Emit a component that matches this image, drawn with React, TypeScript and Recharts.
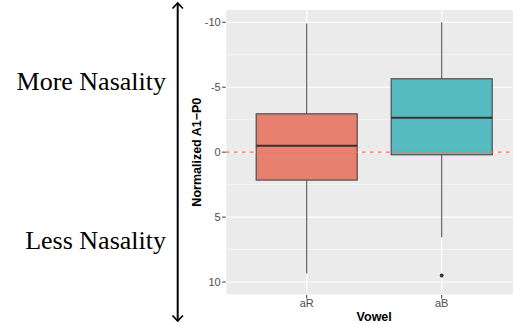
import React from 'react';
import {
  ComposedChart, Bar, XAxis, YAxis, CartesianGrid, ReferenceLine, Label,
} from 'recharts';

// Values (y axis is reversed: -10 at the top)
const vowels = ['aR', 'aB'];
const whiskerTop = [-9.9, -10.0];
const boxTop = [-2.95, -5.65];
const medians = [-0.5, -2.65];
const boxBottom = [2.15, 0.2];
const whiskerBottom = [9.35, 6.55];
const outliers: (number | null)[] = [null, 9.5];

const yTicks = [-10, -5, 0, 5, 10];
const yMinorTicks = [-7.5, -2.5, 2.5, 7.5];
const boxFills = ['#E8806F', '#56BCC2'];

const FONT = '"Liberation Sans", Arial, sans-serif';
const BOX_WIDTH = 101;
const X_PADDING = { left: 13.5, right: 13.5 };

const chartData = vowels.map((vowel, i) => ({
  vowel,
  whisker: [whiskerTop[i], whiskerBottom[i]],
  box: [boxTop[i], boxBottom[i]],
  median: [medians[i], medians[i]],
  outlier: outliers[i] == null ? null : [outliers[i], outliers[i]],
}));

const norm = (y: number, h: number) => ({ top: Math.min(y, y + (h || 0)), bottom: Math.max(y, y + (h || 0)) });

const WhiskerShape = (props: any) => {
  const { x, y, width, height } = props;
  const { top, bottom } = norm(y, height);
  const cx = x + width / 2;
  return <line x1={cx} x2={cx} y1={top} y2={bottom} stroke="#555555" strokeWidth={1.1} />;
};

const BoxShape = (props: any) => {
  const { x, y, width, height, index } = props;
  const { top, bottom } = norm(y, height);
  return (
    <rect x={x} y={top} width={width} height={bottom - top}
      fill={boxFills[index % boxFills.length]} stroke="#4D4D4D" strokeWidth={1.2} />
  );
};

const MedianShape = (props: any) => {
  const { x, y, width, height } = props;
  const { top } = norm(y, height);
  return <line x1={x} x2={x + width} y1={top} y2={top} stroke="#333333" strokeWidth={2} />;
};

const OutlierDot = (props: any) => {
  const { x, y, width, height, payload } = props;
  if (!payload || payload.outlier == null || !Number.isFinite(y)) return <g />;
  const { top } = norm(y, height);
  return <circle cx={x + width / 2} cy={top} r={1.9} fill="#333333" />;
};

const YTitle = (props: any) => {
  const { viewBox } = props;
  const x = viewBox.x + 1;
  const y = viewBox.y + viewBox.height / 2;
  return (
    <text x={x} y={y} transform={`rotate(-90 ${x} ${y})`} textAnchor="middle" dominantBaseline="central"
      fontFamily={FONT} fontWeight="bold" fontSize={12.5} fill="#000">
      Normalized A1−P0
    </text>
  );
};

const XTitle = (props: any) => {
  const { viewBox } = props;
  return (
    <text x={viewBox.x + viewBox.width / 2} y={viewBox.y + 26} textAnchor="middle"
      fontFamily={FONT} fontWeight="bold" fontSize={12.5} fill="#000">
      Vowel
    </text>
  );
};

export default function App() {
  return (
    <div style={{ position: 'fixed', left: 0, top: 0, width: 513, height: 324, overflow: 'hidden', background: '#fff' }}>
      <svg width={190} height={324} style={{ position: 'absolute', left: 0, top: 0 }}>
        <line x1={177.7} x2={177.7} y1={3} y2={321} stroke="#000" strokeWidth={2} />
        <polyline points="172.5,8.5 177.7,3 182.9,8.5" fill="none" stroke="#000" strokeWidth={1.8} />
        <polyline points="172.5,315.5 177.7,321 182.9,315.5" fill="none" stroke="#000" strokeWidth={1.8} />
        <text x={166} y={90} textAnchor="end" fontFamily='"Liberation Serif", "Times New Roman", serif' fontSize={26} fill="#000">
          More Nasality
        </text>
        <text x={166} y={249.3} textAnchor="end" fontFamily='"Liberation Serif", "Times New Roman", serif' fontSize={26} fill="#000">
          Less Nasality
        </text>
      </svg>
      <div style={{ position: 'absolute', left: 0, top: 0 }}>
        <ComposedChart width={530} height={324} data={chartData}
          margin={{ top: 9.3, right: 7.3, bottom: 0, left: 195.7 }}>
          <CartesianGrid xAxisId="box" fill="#EBEBEB" stroke="#FFFFFF" strokeWidth={1.1} />
          <CartesianGrid xAxisId="box" vertical={false} horizontalValues={yMinorTicks} stroke="#FFFFFF" strokeWidth={0.55} />
          <XAxis xAxisId="box" dataKey="vowel" type="category" height={29} padding={X_PADDING}
            axisLine={false} tickLine={{ stroke: '#333333' }} tickSize={3.5} tickMargin={1}
            tick={{ fill: '#4D4D4D', fontSize: 11, fontFamily: FONT }}>
            <Label content={<XTitle />} />
          </XAxis>
          <XAxis xAxisId="w" dataKey="vowel" type="category" hide padding={X_PADDING} />
          <XAxis xAxisId="m" dataKey="vowel" type="category" hide padding={X_PADDING} />
          <XAxis xAxisId="o" dataKey="vowel" type="category" hide padding={X_PADDING} />
          <YAxis type="number" domain={[-11, 11]} reversed ticks={yTicks} width={30}
            axisLine={false} tickLine={{ stroke: '#333333' }} tickSize={3.5} tickMargin={1.5}
            tick={{ fill: '#4D4D4D', fontSize: 11, fontFamily: FONT }} allowDataOverflow>
            <Label content={<YTitle />} />
          </YAxis>
          <ReferenceLine xAxisId="box" y={0} stroke="#F4735F" strokeWidth={1.1} strokeDasharray="4 4" />
          <Bar xAxisId="w" dataKey="whisker" barSize={BOX_WIDTH} shape={<WhiskerShape />} isAnimationActive={false} />
          <Bar xAxisId="box" dataKey="box" barSize={BOX_WIDTH} shape={<BoxShape />} isAnimationActive={false} />
          <Bar xAxisId="m" dataKey="median" barSize={BOX_WIDTH} shape={<MedianShape />} isAnimationActive={false} />
          <Bar xAxisId="o" dataKey="outlier" barSize={BOX_WIDTH} shape={<OutlierDot />} isAnimationActive={false} />
        </ComposedChart>
      </div>
    </div>
  );
}
